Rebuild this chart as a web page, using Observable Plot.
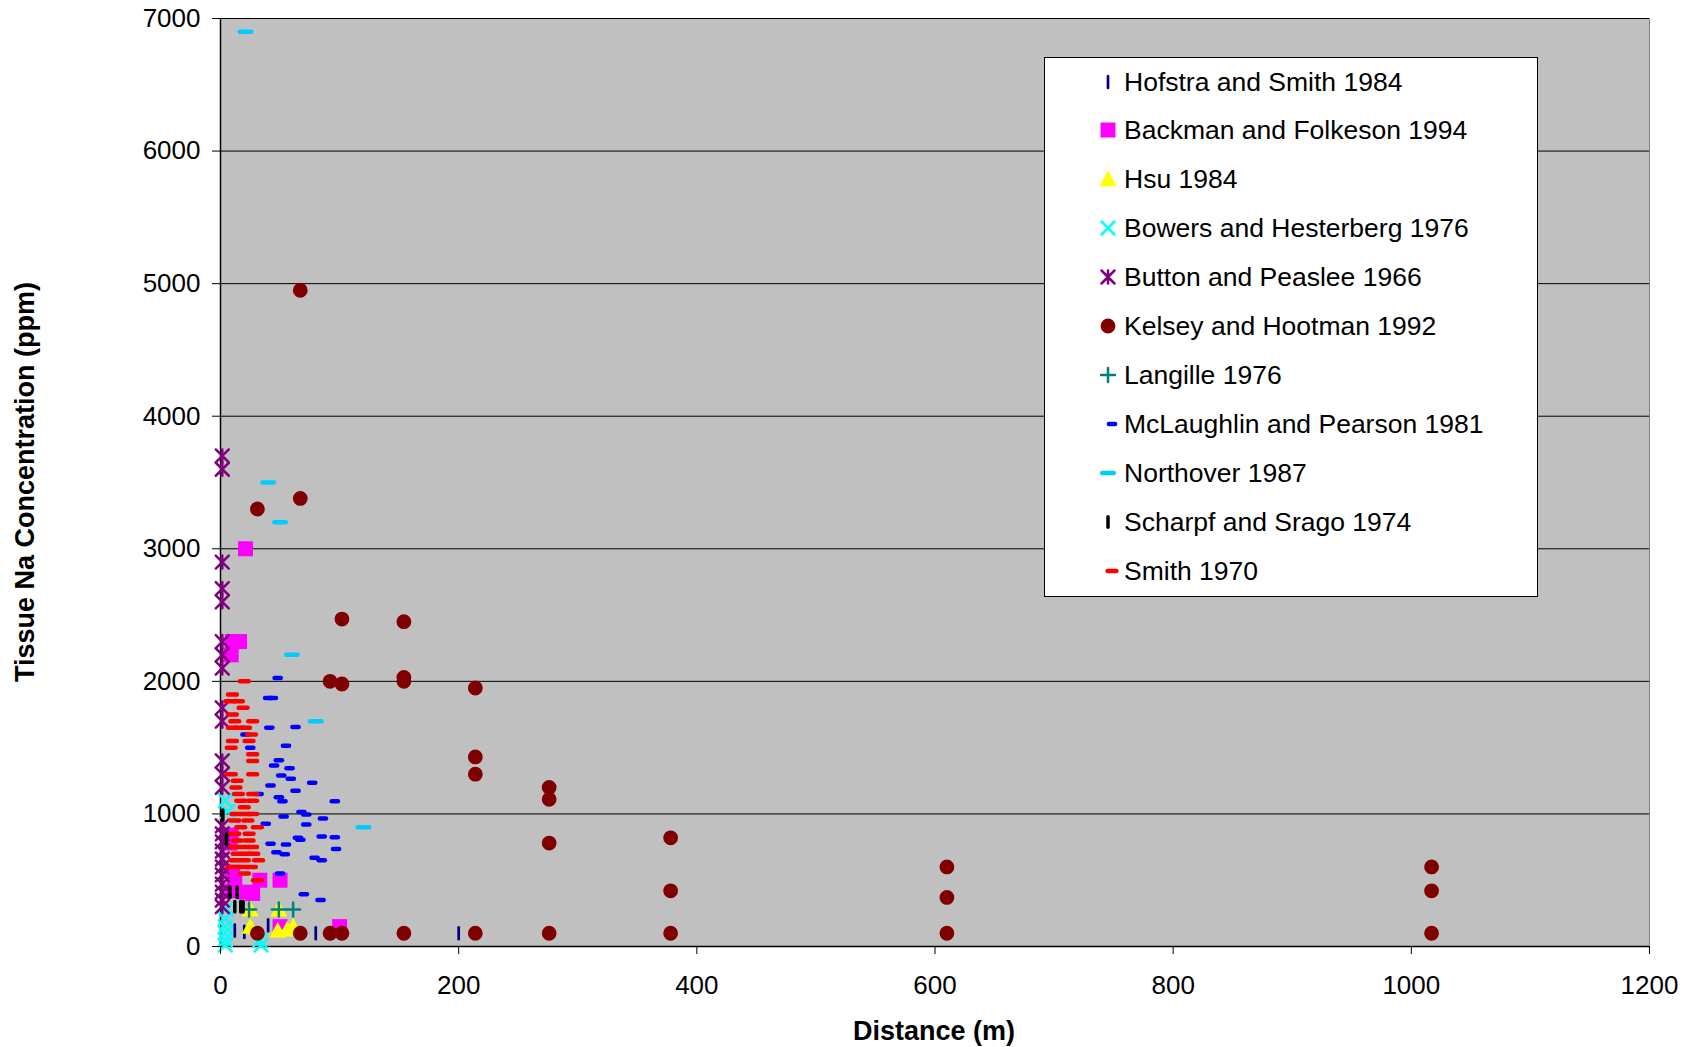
<!DOCTYPE html>
<html>
<head>
<meta charset="utf-8">
<script src="https://cdn.jsdelivr.net/npm/d3@7"></script>
<script src="https://cdn.jsdelivr.net/npm/@observablehq/plot@0.6"></script>
<style>
  body { margin: 0; background: #fff; }
  #wrap { position: relative; width: 1694px; height: 1047px; font-family: "Liberation Sans", Arial, sans-serif; }
  #legend { position: absolute; left: 1044px; top: 57px; width: 494px; height: 540px; border: 1px solid #000; background: #fff; box-sizing: border-box; }
  .row { position: absolute; left: 0; height: 40px; width: 480px; }
  .row svg { position: absolute; left: 43px; top: 0; overflow: visible; }
  .row span { position: absolute; left: 79px; top: 0; line-height: 40px; font-size: 26.5px; white-space: nowrap; color: #000; }
</style>
</head>
<body>
<div id="wrap"></div>
<script>
// Distance (m) vs tissue Na concentration (ppm), one array per study: [distance, ppm]
const hofstraSmith1984 = [[12,120],[20,110],[40,160],[80,100],[200,100]];
const backmanFolkeson1994 = [[21,3000],[16,2300],[10,2300],[9,2200],[9,840],[8,780],[10,560],[12,500],[33,500],[50,500],[21,410],[27,400],[10,420],[50,150],[100,150]];
const hsu1984 = [[25,280],[25,150],[49,280],[48,120],[56,130],[61,150]];
const bowersHesterberg1976 = [[4,1100],[6,1020],[5,280],[4,210],[4,150],[4,100],[4,50],[4,10],[33,50],[34,10]];
const buttonPeaslee1966 = [[1.5,3700],[1.5,3600],[1.5,2900],[1.5,2700],[1.5,2600],[1.5,2300],[1.5,2200],[1.5,2100],[1.5,1800],[1.5,1700],[1.5,1400],[1.5,1300],[1.5,1200],[1.5,910],[1.5,850],[1.5,790],[1.5,720],[1.5,660],[1.5,600],[1.5,540],[1.5,470],[1.5,410],[1.5,350],[1.5,300]];
const kelseyHootman1992 = [[31,3300],[67,4950],[67,3380],[31,100],[67,100],[92,2000],[92,100],[102,2470],[102,1980],[102,100],[154,2450],[154,2030],[154,2000],[154,100],[214,1950],[214,1430],[214,1300],[214,100],[276,1200],[276,1110],[276,780],[276,100],[378,820],[378,420],[378,100],[610,600],[610,370],[610,100],[1017,600],[1017,420],[1017,100]];
const langille1976 = [[24,280],[49,280],[61,280]];
const mclaughlinPearson1981 = [[48,2025],[40,1875],[44,1875],[41,1650],[63,1655],[21,1600],[25,1500],[55,1515],[49,1405],[45,1365],[58,1345],[51,1290],[59,1265],[42,1215],[77,1235],[63,1175],[32,1150],[49,1125],[52,1095],[96,1095],[68,1015],[72,995],[53,980],[86,965],[72,920],[38,925],[42,775],[55,770],[65,820],[67,805],[85,830],[96,825],[97,735],[47,710],[54,695],[79,670],[85,650],[50,550],[70,395],[84,350]];
const northover1987 = [[21,6900],[40,3500],[50,3200],[60,2200],[80,1700],[120,900]];
const scharpfSrago1974 = [[2,990],[5,810],[8,410],[14,410],[12,300],[17,300],[19,300]];
const smith1970 = [[20,2000],[10,1900],[8,1850],[15,1850],[19,1800],[10,1750],[12,1700],[27,1700],[10,1650],[16,1650],[21,1650],[26,1600],[10,1550],[24,1550],[9,1500],[27,1450],[27,1400],[9,1300],[27,1300],[14,1250],[13,1200],[15,1150],[27,1150],[17,1100],[27,1100],[20,1050],[13,1000],[21,1000],[27,1000],[12,950],[23,950],[17,900],[31,900],[12,850],[24,850],[14,800],[24,800],[12,750],[20,750],[27,750],[14,700],[22,700],[28,700],[12,650],[20,650],[32,650],[10,600],[18,600],[26,600],[20,550],[31,500]];

const xTicks = [0, 200, 400, 600, 800, 1000, 1200];
const yTicks = [0, 1000, 2000, 3000, 4000, 5000, 6000, 7000];
const xTitle = "Distance (m)";
const yTitle = "Tissue Na Concentration (ppm)";

// Marker shapes (pixel geometry, drawn through d3 path contexts)
const hdash = w => ({draw(c) { c.moveTo(-w / 2, 0); c.lineTo(w / 2, 0); }});
const vdash = h => ({draw(c) { c.moveTo(0, -h / 2); c.lineTo(0, h / 2); }});
const cross = s => ({draw(c) { c.moveTo(-s, -s); c.lineTo(s, s); c.moveTo(-s, s); c.lineTo(s, -s); }});
const plus = s => ({draw(c) { c.moveTo(-s, 0); c.lineTo(s, 0); c.moveTo(0, -s); c.lineTo(0, s); }});
const star = s => ({draw(c) { c.moveTo(-s, -s); c.lineTo(s, s); c.moveTo(-s, s); c.lineTo(s, -s); c.moveTo(0, -s); c.lineTo(0, s); }});
const square = s => ({draw(c) { c.rect(-s, -s, 2 * s, 2 * s); }});
const triangle = s => ({draw(c) { c.moveTo(0, -s); c.lineTo(s, s * 0.85); c.lineTo(-s, s * 0.85); c.closePath(); }});
const circle = r => ({draw(c) { c.moveTo(r, 0); c.arc(0, 0, r, 0, 2 * Math.PI); }});

const series = [
  {name: "Hofstra and Smith 1984", data: hofstraSmith1984, symbol: vdash(12), stroke: "#000080", sw: 2.7},
  {name: "Backman and Folkeson 1994", data: backmanFolkeson1994, symbol: square(7.5), fill: "#FF00FF"},
  {name: "Hsu 1984", data: hsu1984, symbol: triangle(8.5), fill: "#FFFF00"},
  {name: "Bowers and Hesterberg 1976", data: bowersHesterberg1976, symbol: cross(6.5), stroke: "#00FFFF", sw: 2.5},
  {name: "Button and Peaslee 1966", data: buttonPeaslee1966, symbol: star(6.5), stroke: "#800080", sw: 2.5},
  {name: "Kelsey and Hootman 1992", data: kelseyHootman1992, symbol: circle(7.4), fill: "#800000"},
  {name: "Langille 1976", data: langille1976, symbol: plus(7), stroke: "#008080", sw: 2.5},
  {name: "McLaughlin and Pearson 1981", data: mclaughlinPearson1981, symbol: hdash(6.2), stroke: "#0000FF", sw: 4.5, legendDx: 4},
  {name: "Northover 1987", data: northover1987, symbol: hdash(11.5), stroke: "#00CCFF", sw: 4.5},
  {name: "Scharpf and Srago 1974", data: scharpfSrago1974, symbol: vdash(10.5), stroke: "#000000", sw: 3.5},
  {name: "Smith 1970", data: smith1970, symbol: hdash(8.8), stroke: "#FF0000", sw: 4.5, legendDx: 4}
];

const seriesMarks = series.map(s => Plot.dot(s.data, {
  x: d => d[0],
  y: d => d[1],
  symbol: s.symbol,
  fill: s.fill ?? "none",
  stroke: s.stroke ?? "none",
  strokeWidth: s.sw ?? 0,
  strokeLinecap: "round",
  strokeLinejoin: "round"
}));

const chart = Plot.plot({
  width: 1694,
  height: 1047,
  marginLeft: 220,
  marginRight: 45,
  marginTop: 18,
  marginBottom: 101,
  style: {fontFamily: "'Liberation Sans', Arial, sans-serif", background: "#fff", color: "#000", overflow: "visible"},
  x: {domain: [0, 1200]},
  y: {domain: [0, 7000]},
  marks: [
    Plot.frame({fill: "#C0C0C0", stroke: "#808080"}),
    Plot.gridY(yTicks.slice(1), {stroke: "#000", strokeOpacity: 1, strokeWidth: 1}),
    Plot.ruleX([0], {stroke: "#000", strokeWidth: 1.5}),
    Plot.ruleY([0], {stroke: "#000", strokeWidth: 1.5}),
    ...seriesMarks,
    Plot.axisX(xTicks, {tickSize: 8, tickPadding: 21, fontSize: 26, tickFormat: d => String(d), label: null}),
    Plot.axisY(yTicks, {tickSize: 8, tickPadding: 12, fontSize: 26, tickFormat: d => String(d), label: null})
  ]
});

const svg = d3.select(chart);
svg.append("text")
  .attr("transform", "translate(33.5,482) rotate(-90)")
  .attr("text-anchor", "middle")
  .attr("font-size", 27)
  .attr("font-weight", "bold")
  .attr("fill", "#000")
  .text(yTitle);
svg.append("text")
  .attr("x", 934)
  .attr("y", 1040)
  .attr("text-anchor", "middle")
  .attr("font-size", 27)
  .attr("font-weight", "bold")
  .attr("fill", "#000")
  .text(xTitle);

const wrap = document.getElementById("wrap");
wrap.appendChild(chart);

// Legend box inside the plot area
const legend = d3.select(wrap).append("div").attr("id", "legend");
series.forEach((s, i) => {
  const row = legend.append("div").attr("class", "row").style("top", (3.5 + i * 48.95) + "px");
  const g = row.append("svg").attr("width", 40).attr("height", 40)
    .append("g").attr("transform", `translate(${20 + (s.legendDx ?? 0)},20)`);
  const p = d3.path();
  s.symbol.draw(p);
  g.append("path").attr("d", p.toString())
    .attr("fill", s.fill ?? "none")
    .attr("stroke", s.stroke ?? "none")
    .attr("stroke-width", s.sw ?? 0)
    .attr("stroke-linecap", "round");
  row.append("span").text(s.name);
});
</script>
</body>
</html>
